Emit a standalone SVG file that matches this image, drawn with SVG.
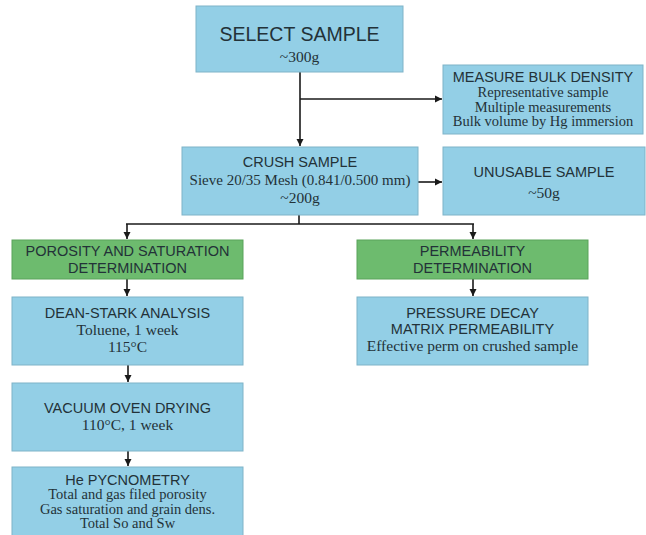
<svg xmlns="http://www.w3.org/2000/svg" width="646" height="535" viewBox="0 0 646 535">
<style>
.b{fill:#93cfe6;stroke:#7fb3c8;stroke-width:1}
.g{fill:#6dbb6e;stroke:#5aa35b;stroke-width:1}
.h{font-family:"Liberation Sans",Arial,sans-serif;font-size:14.5px;fill:#233238;text-anchor:middle}
.s{font-family:"Liberation Serif","Times New Roman",serif;font-size:15.5px;fill:#233238;text-anchor:middle}
.t{font-size:14.5px}
.c{fill:none;stroke:#1a1a1a;stroke-width:1.6}
</style>
<defs>
<marker id="ar" viewBox="0 0 10 10" refX="10" refY="5" markerWidth="7.5" markerHeight="7.5" markerUnits="userSpaceOnUse" orient="auto">
<path d="M0,0 L10,5 L0,10 z" fill="#1a1a1a"/>
</marker>
</defs>
<rect width="646" height="535" fill="#ffffff"/>
<g id="connectors">
<line class="c" x1="300" y1="72" x2="300" y2="146" marker-end="url(#ar)"/>
<line class="c" x1="300" y1="99" x2="442" y2="99" marker-end="url(#ar)"/>
<line class="c" x1="418" y1="182" x2="442" y2="182" marker-end="url(#ar)"/>
<polyline class="c" points="299,215 299,224"/>
<line class="c" x1="126" y1="224" x2="474" y2="224"/>
<line class="c" x1="127" y1="224" x2="127" y2="239" marker-end="url(#ar)"/>
<line class="c" x1="473" y1="224" x2="473" y2="239" marker-end="url(#ar)"/>
<line class="c" x1="127" y1="279" x2="127" y2="296" marker-end="url(#ar)"/>
<line class="c" x1="473" y1="279" x2="473" y2="296" marker-end="url(#ar)"/>
<line class="c" x1="128" y1="365" x2="128" y2="382" marker-end="url(#ar)"/>
<line class="c" x1="128" y1="451" x2="128" y2="466" marker-end="url(#ar)"/>
</g>
<g id="select">
<rect class="b" x="196" y="6" width="207" height="66"/>
<text class="h" x="299.5" y="41" style="font-size:19.5px">SELECT SAMPLE</text>
<text class="s" x="299.5" y="62">~300g</text>
</g>
<g id="bulk">
<rect class="b" x="443" y="65" width="200" height="69"/>
<text class="h" x="543" y="82">MEASURE BULK DENSITY</text>
<text class="s t" x="543" y="97">Representative sample</text>
<text class="s t" x="543" y="111.5">Multiple measurements</text>
<text class="s t" x="543" y="126">Bulk volume by Hg immersion</text>
</g>
<g id="crush">
<rect class="b" x="182" y="147" width="236" height="68"/>
<text class="h" x="300" y="167">CRUSH SAMPLE</text>
<text class="s" x="300" y="185" style="font-size:15px">Sieve 20/35 Mesh (0.841/0.500 mm)</text>
<text class="s" x="300" y="203">~200g</text>
</g>
<g id="unusable">
<rect class="b" x="443" y="147" width="202" height="68"/>
<text class="h" x="544" y="177">UNUSABLE SAMPLE</text>
<text class="s" x="544" y="198">~50g</text>
</g>
<g id="porosity">
<rect class="g" x="12" y="240" width="231" height="39"/>
<text class="h" x="127.5" y="256">POROSITY AND SATURATION</text>
<text class="h" x="127.5" y="273">DETERMINATION</text>
</g>
<g id="permeability">
<rect class="g" x="357" y="240" width="231" height="39"/>
<text class="h" x="472.5" y="256">PERMEABILITY</text>
<text class="h" x="472.5" y="273">DETERMINATION</text>
</g>
<g id="deanstark">
<rect class="b" x="12" y="297" width="231" height="68"/>
<text class="h" x="127.5" y="318">DEAN-STARK ANALYSIS</text>
<text class="s" x="127.5" y="335">Toluene, 1 week</text>
<text class="s" x="127.5" y="352">115°C</text>
</g>
<g id="pressure">
<rect class="b" x="357" y="297" width="231" height="68"/>
<text class="h" x="472.5" y="318">PRESSURE DECAY</text>
<text class="h" x="472.5" y="334">MATRIX PERMEABILITY</text>
<text class="s" x="472.5" y="351">Effective perm on crushed sample</text>
</g>
<g id="vacuum">
<rect class="b" x="12" y="383" width="231" height="68"/>
<text class="h" x="127.5" y="413">VACUUM OVEN DRYING</text>
<text class="s" x="127.5" y="430">110°C, 1 week</text>
</g>
<g id="pycnometry">
<rect class="b" x="12" y="467" width="231" height="80"/>
<text class="h" x="127.5" y="484.5">He PYCNOMETRY</text>
<text class="s t" x="127.5" y="499">Total and gas filed porosity</text>
<text class="s t" x="127.5" y="513.5">Gas saturation and grain dens.</text>
<text class="s t" x="127.5" y="528">Total So and Sw</text>
</g>
</svg>
